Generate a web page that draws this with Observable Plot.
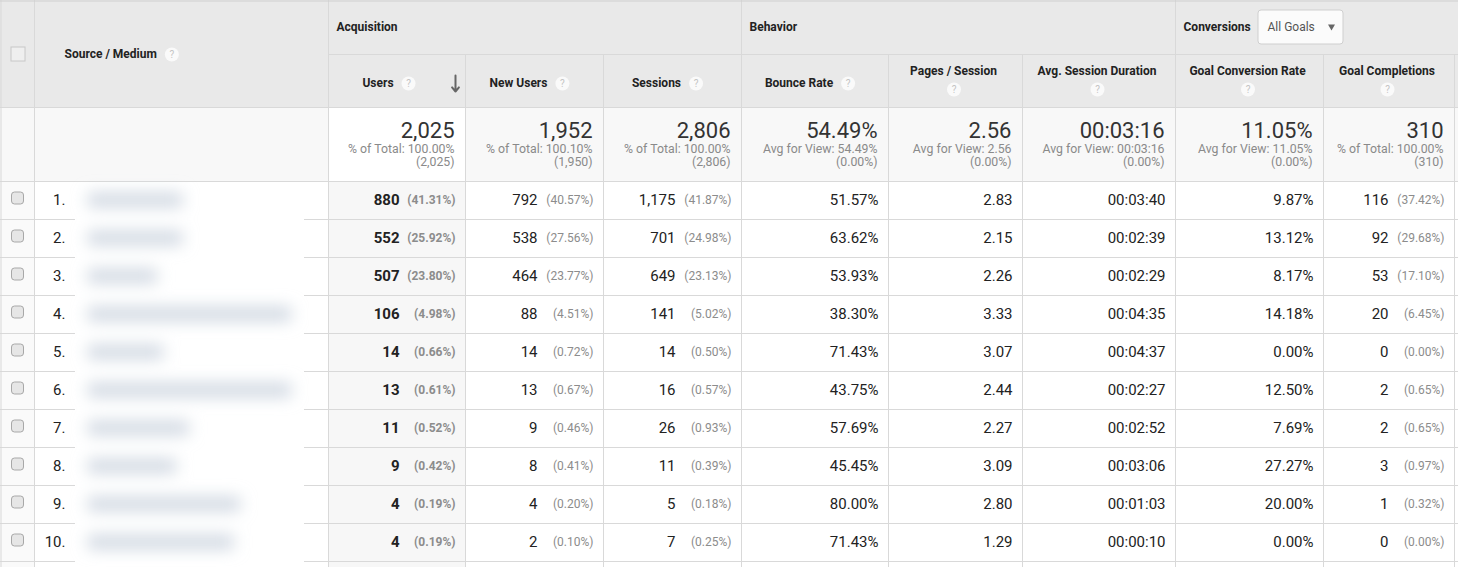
<!DOCTYPE html>
<html>
<head>
<meta charset="utf-8">
<script src="https://cdn.jsdelivr.net/npm/d3@7"></script>
<script src="https://cdn.jsdelivr.net/npm/@observablehq/plot@0.6"></script>
<style>
  html, body { margin: 0; padding: 0; background: #fff; }
  svg { display: block; }
</style>
</head>
<body>
<div id="chart"></div>
<script>
// ---------------- DATA ----------------
const ranks = ["1.", "2.", "3.", "4.", "5.", "6.", "7.", "8.", "9.", "10."];
const users = [880, 552, 507, 106, 14, 13, 11, 9, 4, 4];
const usersPct = [41.31, 25.92, 23.80, 4.98, 0.66, 0.61, 0.52, 0.42, 0.19, 0.19];
const newUsers = [792, 538, 464, 88, 14, 13, 9, 8, 4, 2];
const newUsersPct = [40.57, 27.56, 23.77, 4.51, 0.72, 0.67, 0.46, 0.41, 0.20, 0.10];
const sessions = [1175, 701, 649, 141, 14, 16, 26, 11, 5, 7];
const sessionsPct = [41.87, 24.98, 23.13, 5.02, 0.50, 0.57, 0.93, 0.39, 0.18, 0.25];
const bounceRate = [51.57, 63.62, 53.93, 38.30, 71.43, 43.75, 57.69, 45.45, 80.00, 71.43];
const pagesPerSession = [2.83, 2.15, 2.26, 3.33, 3.07, 2.44, 2.27, 3.09, 2.80, 1.29];
const avgSessionDuration = ["00:03:40", "00:02:39", "00:02:29", "00:04:35", "00:04:37", "00:02:27", "00:02:52", "00:03:06", "00:01:03", "00:00:10"];
const goalConversionRate = [9.87, 13.12, 8.17, 14.18, 0.00, 12.50, 7.69, 27.27, 20.00, 0.00];
const goalCompletions = [116, 92, 53, 20, 0, 2, 2, 3, 1, 0];
const goalCompletionsPct = [37.42, 29.68, 17.10, 6.45, 0.00, 0.65, 0.65, 0.97, 0.32, 0.00];
// length (in characters) of each redacted, blurred source / medium label
const redactedLabelChars = [16, 16, 12, 33, 13, 33, 17, 15, 25, 24];

const metricHeaders = ["Users", "New Users", "Sessions", "Bounce Rate", "Pages / Session", "Avg. Session Duration", "Goal Conversion Rate", "Goal Completions"];
const groupHeaders = ["Acquisition", "Behavior", "Conversions"];
const totals = ["2,025", "1,952", "2,806", "54.49%", "2.56", "00:03:16", "11.05%", "310"];
const totalsLine1 = ["% of Total: 100.00%", "% of Total: 100.10%", "% of Total: 100.00%", "Avg for View: 54.49%", "Avg for View: 2.56", "Avg for View: 00:03:16", "Avg for View: 11.05%", "% of Total: 100.00%"];
const totalsLine2 = ["(2,025)", "(1,950)", "(2,806)", "(0.00%)", "(0.00%)", "(0.00%)", "(0.00%)", "(310)"];
const dimensionHeader = "Source / Medium";
const goalSelector = "All Goals";

// ---------------- LAYOUT ----------------
const W = 1458, H = 567;
const colX = [328, 465, 603, 741, 888, 1022, 1175, 1323, 1454];
const groupStart = [0, 3, 6];
const twoLine = [false, false, false, false, true, true, true, true];
const hdrMid = 54, hdrBot = 107, totBot = 181, rowH = 38;
const chkX = 34;
const rowTop = i => totBot + i * rowH;
const rowMid = i => rowTop(i) + rowH / 2;
const gridColor = "#d9d9d9";
const blurFill = "#cfd7e1";

const fmtInt = d3.format(",");
const fmt2 = d3.format(".2f");
const pctText = p => "(" + fmt2(p) + "%)";

const metricCols = [
  {vals: users.map(fmtInt), pct: usersPct, bold: true},
  {vals: newUsers.map(fmtInt), pct: newUsersPct},
  {vals: sessions.map(fmtInt), pct: sessionsPct},
  {vals: bounceRate.map(v => fmt2(v) + "%")},
  {vals: pagesPerSession.map(fmt2)},
  {vals: avgSessionDuration},
  {vals: goalConversionRate.map(v => fmt2(v) + "%")},
  {vals: goalCompletions.map(fmtInt), pct: goalCompletionsPct}
];

const ctx = document.createElement("canvas").getContext("2d");
ctx.font = "bold 12px Roboto";
const tw = s => ctx.measureText(s).width;

// ---------------- CELLS ----------------
const valueCells = [], pctCells = [];
metricCols.forEach((c, j) => {
  const right = colX[j + 1];
  c.vals.forEach((v, i) => {
    valueCells.push({x: right - (c.pct ? 66 : 10), y: rowMid(i), text: v, bold: !!c.bold});
    if (c.pct) pctCells.push({x: right - 10, y: rowMid(i), text: pctText(c.pct[i]), bold: !!c.bold});
  });
});

const totalCells = totals.map((t, j) => ({x: colX[j + 1] - 11, t, l1: totalsLine1[j], l2: totalsLine2[j]}));

const headerLabels = [], helpIcons = [];
metricHeaders.forEach((h, j) => {
  const cx = (colX[j] + colX[j + 1]) / 2;
  if (twoLine[j]) {
    headerLabels.push({x: cx - 2, y: 71, text: h, anchor: "middle"});
    helpIcons.push({x: cx - 1.5, y: 89});
  } else {
    const w = tw(h);
    const total = w + 8 + 14;
    const center = cx - (j === 0 ? 8 : 5);
    const start = center - total / 2;
    headerLabels.push({x: start, y: 83, text: h, anchor: "start"});
    helpIcons.push({x: start + w + 8 + 7, y: 83});
  }
});
headerLabels.push({x: 64, y: 54, text: dimensionHeader, anchor: "start"});
helpIcons.push({x: 64 + tw(dimensionHeader) + 8 + 7, y: 54});

const groupLabels = groupHeaders.map((g, k) => ({x: colX[groupStart[k]] + 8, y: 27, text: g}));

const rows = ranks.map((r, i) => ({r, i}));

const vLines = [
  {x: 0.5, y1: 0, y2: H},
  {x: chkX, y1: 0, y2: H},
  ...colX.map((x, k) => ({x, y1: (k === 0 || groupStart.includes(k)) ? 0 : hdrMid, y2: H}))
];
const hLines = [
  {y: hdrMid, x1: colX[0], x2: W},
  {y: hdrBot, x1: 0, x2: W},
  {y: totBot, x1: 0, x2: W},
  ...ranks.map((r, i) => ({y: rowTop(i + 1), x1: 0, x2: W}))
];

const dd = {x1: 1258, x2: 1343, y1: 10, y2: 44};
const sortCol = {x1: colX[0], x2: colX[1]};
const redactX = {x1: 75, x2: 304};

// ---------------- PLOT ----------------
const svg = Plot.plot({
  width: W, height: H, margin: 0,
  x: {type: "linear", domain: [0, W], range: [0, W], axis: null},
  y: {type: "linear", domain: [0, H], range: [0, H], axis: null},
  style: {fontFamily: "Roboto, sans-serif", background: "#fff"},
  marks: [
    Plot.rect([0], {x1: 0, x2: W, y1: 0, y2: hdrBot, fill: "#e9e9e9"}),
    Plot.rect([0], {x1: 0, x2: W, y1: hdrBot, y2: totBot, fill: "#f8f8f8"}),
    Plot.rect([0], {x1: sortCol.x1, x2: sortCol.x2, y1: hdrBot, y2: totBot, fill: "#ffffff"}),
    Plot.rect([0], {x1: sortCol.x1, x2: sortCol.x2, y1: totBot, y2: H, fill: "#f7f7f7"}),
    Plot.rect([0], {x1: 0, x2: chkX, y1: totBot, y2: H, fill: "#fafafa"}),
    Plot.ruleY(hLines, {y: "y", x1: "x1", x2: "x2", stroke: gridColor}),
    Plot.ruleX(vLines, {x: "x", y1: "y1", y2: "y2", stroke: gridColor}),
    Plot.ruleY([0.5], {x1: 0, x2: W, stroke: "#cfcfcf"}),
    // redacted (blurred) labels
    Plot.rect([0], {x1: redactX.x1, x2: redactX.x2, y1: totBot + 5, y2: H, fill: "#ffffff"}),
    Plot.rect(redactedLabelChars, {
      x1: 88, x2: (d) => 80 + d * 6.4,
      y1: (d, i) => rowMid(i) - 7, y2: (d, i) => rowMid(i) + 7,
      fill: blurFill
    }),
    Plot.rect([0], {x1: 11, x2: 25, y1: 47, y2: 61, fill: "#efefef", stroke: "#c8c8c8"}),
    Plot.rect(rows, {x1: 11.5, x2: 23.5, y1: d => rowMid(d.i) - 8, y2: d => rowMid(d.i) + 4, fill: "#e6e6e6", stroke: "#a8a8a8", rx: 3}),
    Plot.text(rows, {x: 65, y: d => rowMid(d.i), text: "r", textAnchor: "end", fontSize: 15, fill: "#222"}),
    Plot.text(groupLabels, {x: "x", y: "y", text: "text", textAnchor: "start", fontSize: 12, fontWeight: 700, fill: "#222"}),
    Plot.rect([dd], {x1: "x1", x2: "x2", y1: "y1", y2: "y2", fill: "#fbfbfb", stroke: "#cfcfcf", rx: 3}),
    Plot.text([goalSelector], {x: dd.x1 + 9, y: 27, text: d => d, textAnchor: "start", fontSize: 12, fill: "#555"}),
    Plot.dot([0], {x: dd.x2 - 12, y: 26, symbol: "triangle", r: 2.6, rotate: 180, fill: "#666", stroke: "none"}),
    Plot.text(headerLabels.filter(d => d.anchor === "start"), {x: "x", y: "y", text: "text", textAnchor: "start", fontSize: 12, fontWeight: 700, fill: "#222"}),
    Plot.text(headerLabels.filter(d => d.anchor === "middle"), {x: "x", y: "y", text: "text", textAnchor: "middle", fontSize: 12, fontWeight: 700, fill: "#222"}),
    Plot.dot(helpIcons, {x: "x", y: "y", r: 7, fill: "#fafafa", stroke: "none"}),
    Plot.text(helpIcons, {x: "x", y: "y", text: () => "?", fontSize: 10, fill: "#c4c4c4"}),
    Plot.arrow([0], {x1: colX[1] - 10, y1: 75, x2: colX[1] - 10, y2: 91, stroke: "#666", strokeWidth: 2, headLength: 7, headAngle: 80}),
    Plot.text(totalCells, {x: "x", y: 130, text: "t", textAnchor: "end", fontSize: 22, fill: "#333"}),
    Plot.text(totalCells, {x: "x", y: 149, text: "l1", textAnchor: "end", fontSize: 12.3, fill: "#8a8a8a"}),
    Plot.text(totalCells, {x: "x", y: 161.5, text: "l2", textAnchor: "end", fontSize: 12.3, fill: "#8a8a8a"}),
    Plot.text(valueCells.filter(d => !d.bold), {x: "x", y: "y", text: "text", textAnchor: "end", fontSize: 15, fill: "#222"}),
    Plot.text(valueCells.filter(d => d.bold), {x: "x", y: "y", text: "text", textAnchor: "end", fontSize: 15, fontWeight: 700, fill: "#222"}),
    Plot.text(pctCells.filter(d => !d.bold), {x: "x", y: "y", text: "text", textAnchor: "end", fontSize: 12, fill: "#8c8c8c"}),
    Plot.text(pctCells.filter(d => d.bold), {x: "x", y: "y", text: "text", textAnchor: "end", fontSize: 12, fontWeight: 700, fill: "#8c8c8c"})
  ]
});

// blur filter for the redacted labels
const s = d3.select(svg);
const defs = s.insert("defs", ":first-child");
defs.append("filter").attr("id", "redact-blur")
  .attr("filterUnits", "userSpaceOnUse")
  .attr("x", 0).attr("y", 0).attr("width", W).attr("height", H)
  .append("feGaussianBlur").attr("stdDeviation", 8);
s.selectAll("g, rect").filter(function () { return this.getAttribute("fill") === blurFill; })
  .attr("filter", "url(#redact-blur)");

document.getElementById("chart").appendChild(svg);
</script>
</body>
</html>
